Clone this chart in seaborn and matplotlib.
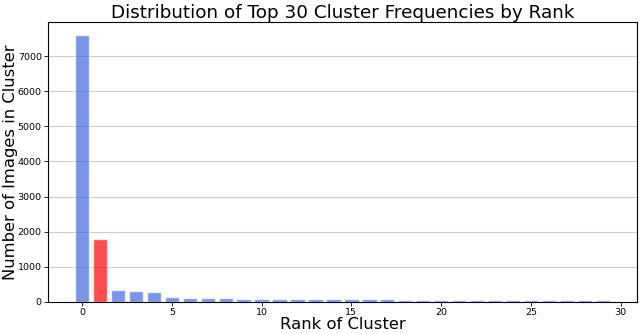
import matplotlib
matplotlib.use("Agg")
import matplotlib.pyplot as plt
import numpy as np
import pandas as pd
import seaborn as sns

# Cluster sizes for the 30 most frequent clusters, sorted by rank
ranks = list(range(30))
counts = [7590, 1780, 340, 310, 285, 135, 115, 110, 100, 95,
          95, 95, 85, 80, 78, 75, 72, 70, 68, 65,
          60, 58, 56, 55, 53, 52, 50, 48, 47, 46]
highlight_rank = 1

sns.set_style("white")
plt.rcParams["text.color"] = "black"
plt.rcParams["axes.labelcolor"] = "black"
plt.rcParams["xtick.color"] = "black"
plt.rcParams["ytick.color"] = "black"

df = pd.DataFrame({"rank": ranks, "count": counts})
palette = {r: ("red" if r == highlight_rank else "royalblue") for r in ranks}

fig, ax = plt.subplots(figsize=(6.4, 3.34), dpi=100)
sns.barplot(data=df, x="rank", y="count", hue="rank", palette=palette,
            native_scale=True, legend=False, alpha=0.7, width=0.8,
            saturation=1, ax=ax)

ax.set_xlim(-1.9, 30.9)
ax.set_xticks([0, 5, 10, 15, 20, 25, 30])
ax.yaxis.grid(True, color="#cccccc", linewidth=0.8)
ax.set_axisbelow(True)
for s in ax.spines.values():
    s.set_color("black")
    s.set_linewidth(0.8)

ax.set_title("Distribution of Top 30 Cluster Frequencies by Rank", fontsize=13.2, pad=3)
ax.set_xlabel("Rank of Cluster", fontsize=11.8, labelpad=0)
ax.set_ylabel("Number of Images in Cluster", fontsize=11.8, labelpad=0)
ax.tick_params(axis="both", labelsize=6.8, length=3, width=0.6, pad=1.5,
               direction="out", bottom=True, left=True)

plt.subplots_adjust(left=0.075, right=0.995, top=0.934, bottom=0.096)
plt.savefig("out.png", dpi=100)
